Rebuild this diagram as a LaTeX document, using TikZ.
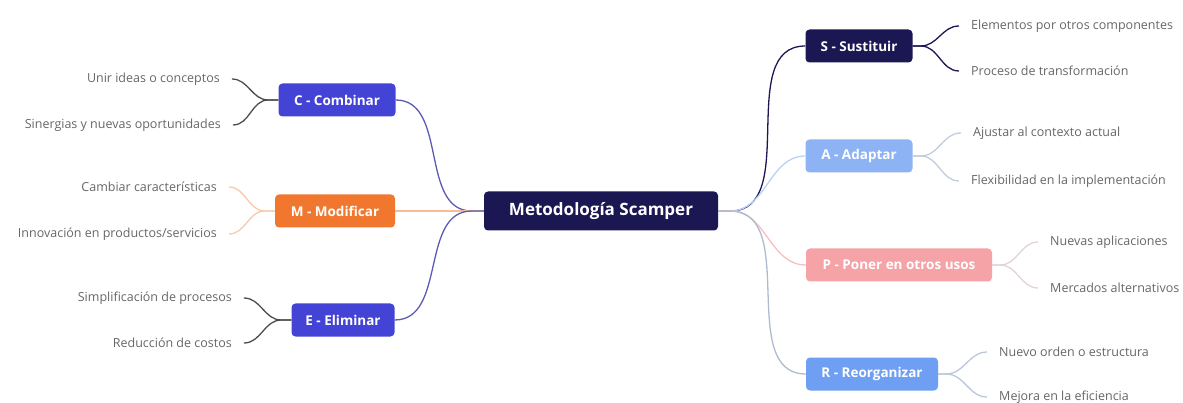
\documentclass[tikz,border=0pt]{standalone}
\usepackage{fontspec}
\setmainfont{Open Sans}
\usetikzlibrary{positioning}

\definecolor{navy}{HTML}{1B1752}
\definecolor{violeta}{HTML}{4343D6}
\definecolor{naranja}{HTML}{F2772E}
\definecolor{celeste}{HTML}{8DB3F5}
\definecolor{rosa}{HTML}{F5A3A6}
\definecolor{azul}{HTML}{6E9FF2}
\definecolor{texto}{HTML}{666666}

\begin{document}
\begin{tikzpicture}
  [
  x=1pt, y=-1pt,
  % raiz
  raiz/.style = {rectangle,
    rounded corners=4pt,
    fill=navy, text=white,
    font=\fontsize{17}{20}\selectfont\bfseries,
    minimum width=234pt,
    minimum height=39pt},
  % rama
  rama/.style = {rectangle,
    rounded corners=4pt,
    text=white,
    font=\fontsize{13.5}{15}\selectfont\bfseries,
    minimum height=33pt},
  % hoja
  hoja/.style = {text=texto,
    font=\fontsize{12.5}{14}\selectfont,
    inner sep=0pt},
  % line
  line/.style = {draw, line width=1.3pt},
  ]

  \useasboundingbox (0,0) rectangle (1183,403);

  % nodes
  \node [raiz] (root) at (601,211) {Metodología Scamper};

  \node [rama, fill=violeta, minimum width=117pt] (comb) at (337,100) {C - Combinar};
  \node [rama, fill=naranja, minimum width=120pt] (modi) at (335,211) {M - Modificar};
  \node [rama, fill=violeta, minimum width=103pt] (elim) at (343,320) {E - Eliminar};

  \node [rama, fill=navy, minimum width=107pt] (sust) at (859,46) {S - Sustituir};
  \node [rama, fill=celeste, minimum width=107pt] (adap) at (859,156) {A - Adaptar};
  \node [rama, fill=rosa, minimum width=186pt] (pone) at (899,265) {P - Poner en otros usos};
  \node [rama, fill=azul, minimum width=132pt] (reor) at (872,374) {R - Reorganizar};

  \node [hoja, anchor=east] (unir) at (220,79) {Unir ideas o conceptos};
  \node [hoja, anchor=east] (sine) at (221,125) {Sinergias y nuevas oportunidades};
  \node [hoja, anchor=east] (camb) at (217,187) {Cambiar características};
  \node [hoja, anchor=east] (inno) at (217,234) {Innovación en productos/servicios};
  \node [hoja, anchor=east] (simp) at (232,298) {Simplificación de procesos};
  \node [hoja, anchor=east] (redu) at (232,343) {Reducción de costos};

  \node [hoja, anchor=west] (elem) at (971,26) {Elementos por otros componentes};
  \node [hoja, anchor=west] (proc) at (971,71) {Proceso de transformación};
  \node [hoja, anchor=west] (ajus) at (973,133) {Ajustar al contexto actual};
  \node [hoja, anchor=west] (flex) at (971,181) {Flexibilidad en la implementación};
  \node [hoja, anchor=west] (nuev) at (1050,242) {Nuevas aplicaciones};
  \node [hoja, anchor=west] (merc) at (1050,288) {Mercados alternativos};
  \node [hoja, anchor=west] (orde) at (999,352) {Nuevo orden o estructura};
  \node [hoja, anchor=west] (mejo) at (999,397) {Mejora en la eficiencia};

  % junctions
  \coordinate (jl) at ([xshift=-12pt]root.west);
  \coordinate (jr) at ([xshift=12pt]root.east);

  % path
  \path [line, draw=violeta!60!gray] (root.west) -- (jl) to[out=180, in=0] (comb.east);
  \path [line, draw=naranja!50] (root.west) -- (jl) to[out=180, in=0] (modi.east);
  \path [line, draw=violeta!60!gray] (root.west) -- (jl) to[out=180, in=0] (elim.east);

  \path [line, draw=navy] (root.east) -- (jr) to[out=0, in=180] (sust.west);
  \path [line, draw=celeste!60] (root.east) -- (jr) to[out=0, in=180] (adap.west);
  \path [line, draw=rosa!70] (root.east) -- (jr) to[out=0, in=180] (pone.west);
  \path [line, draw=azul!45!gray!60] (root.east) -- (jr) to[out=0, in=180] (reor.west);

  \path [line, draw=black!70] (comb.west) -- +(-10,0) to[out=180, in=0] ([xshift=12pt]unir.east);
  \path [line, draw=black!70] (comb.west) -- +(-10,0) to[out=180, in=0] ([xshift=12pt]sine.east);
  \path [line, draw=naranja!40] (modi.west) -- +(-10,0) to[out=180, in=0] ([xshift=12pt]camb.east);
  \path [line, draw=naranja!40] (modi.west) -- +(-10,0) to[out=180, in=0] ([xshift=12pt]inno.east);
  \path [line, draw=black!70] (elim.west) -- +(-10,0) to[out=180, in=0] ([xshift=12pt]simp.east);
  \path [line, draw=black!70] (elim.west) -- +(-10,0) to[out=180, in=0] ([xshift=12pt]redu.east);

  \path [line, draw=navy] (sust.east) -- +(8,0) to[out=0, in=180] ([xshift=-12pt]elem.west);
  \path [line, draw=navy] (sust.east) -- +(8,0) to[out=0, in=180] ([xshift=-12pt]proc.west);
  \path [line, draw=celeste!50!gray!50] (adap.east) -- +(8,0) to[out=0, in=180] ([xshift=-12pt]ajus.west);
  \path [line, draw=celeste!50!gray!50] (adap.east) -- +(8,0) to[out=0, in=180] ([xshift=-12pt]flex.west);
  \path [line, draw=rosa!50!gray!40] (pone.east) -- +(8,0) to[out=0, in=180] ([xshift=-12pt]nuev.west);
  \path [line, draw=rosa!50!gray!40] (pone.east) -- +(8,0) to[out=0, in=180] ([xshift=-12pt]merc.west);
  \path [line, draw=azul!50!gray!50] (reor.east) -- +(8,0) to[out=0, in=180] ([xshift=-12pt]orde.west);
  \path [line, draw=azul!50!gray!50] (reor.east) -- +(8,0) to[out=0, in=180] ([xshift=-12pt]mejo.west);

\end{tikzpicture}
\end{document}
